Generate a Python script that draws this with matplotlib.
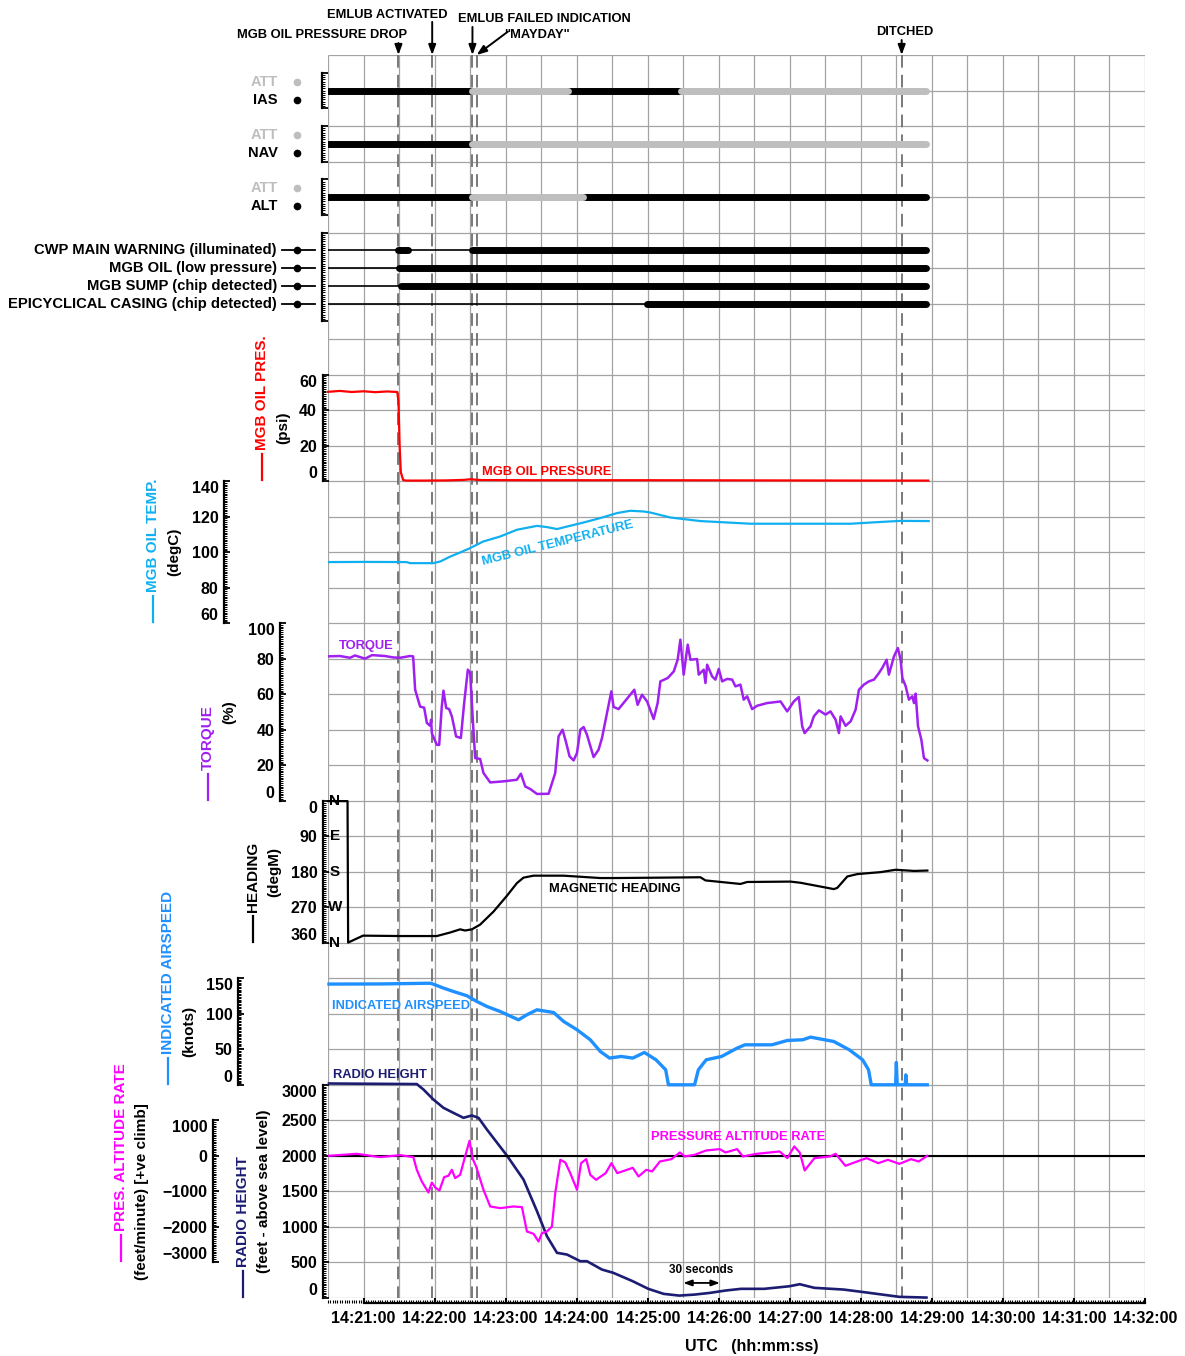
import numpy as np
import matplotlib
matplotlib.use("Agg")
import matplotlib.pyplot as plt
from matplotlib import transforms
from matplotlib.lines import Line2D
from matplotlib.ticker import MultipleLocator, FuncFormatter

plt.rcParams['font.family'] = ['Liberation Sans', 'DejaVu Sans']
plt.rcParams['font.weight'] = 'bold'

# all times are seconds after 14:20:00 UTC
T0, T1 = 30, 720

EVENT_T = [89.5, 118, 152, 155.5, 514.5]
EVENT_LABELS = ['MGB OIL PRESSURE DROP', 'EMLUB ACTIVATED', 'EMLUB FAILED INDICATION',
                '"MAYDAY"', 'DITCHED']

# autopilot modes: (start, end, engaged mode)
IAS_MODE = [(30, 152, 'IAS'), (152, 233, 'ATT'), (233, 328, 'IAS'), (328, 535, 'ATT')]
NAV_MODE = [(30, 152, 'NAV'), (152, 535, 'ATT')]
ALT_MODE = [(30, 152, 'ALT'), (152, 245, 'ATT'), (245, 535, 'ALT')]

DISCRETE_NAMES = ['CWP MAIN WARNING (illuminated)', 'MGB OIL (low pressure)',
                  'MGB SUMP (chip detected)', 'EPICYCLICAL CASING (chip detected)']
DISCRETE_ON = [[(89.5, 97.5), (152, 535)], [(90, 535)], [(92, 535)], [(299, 535)]]
DISCRETE_END = 535

OIL_T = [30, 40, 50, 60, 70, 80, 88.5, 89.5, 90.5, 91.5, 93.5, 96, 110, 130, 145, 151, 154, 160, 200, 300, 400, 500, 537]
OIL_P = [50.3, 50.8, 50.2, 50.6, 50.1, 50.5, 50.2, 45, 20, 5, 0.6, 0.3, 0.3, 0.4, 0.7, 1.1, 0.8, 0.6, 0.5, 0.5, 0.4, 0.3, 0.3]

TEMP_T = [30, 60, 96.5, 99.3, 118.8, 124.7, 133.2, 141.6, 150.1, 161.1, 175.4, 189.5, 206.5, 214.9,
          223.4, 231.8, 245.9, 260, 274.1, 285.3, 296.6, 302.3, 319.2, 344.5, 386.8, 430, 471.4,
          496.7, 513.6, 537.3]
TEMP_V = [94.4, 94.5, 94.4, 93.8, 93.8, 94.7, 97.5, 99.8, 102.3, 106, 108.8, 112.6, 114.8, 114.1,
          113, 114.4, 116.7, 119.2, 122, 123.3, 122.9, 122.3, 119.5, 117.5, 116, 116, 116,
          117, 117.6, 117.5]

TORQUE_T = [30, 40, 48.6, 52.8, 61.3, 67.2, 78.2, 85, 90.9, 99.3, 101.9, 103.6, 107.8, 111.2, 113.5,
            116.2, 117.1, 117.7, 121.9, 123.9, 126.1, 127.5, 129.8, 132.3, 134.6, 138.2, 142.2, 145,
            148.1, 150.1, 152.3, 154.3, 158.5, 161.3, 167, 178.2, 189.5, 192.9, 196.6, 200.8, 206.5,
            216.3, 221.9, 224.7, 228.1, 231.2, 234, 237.4, 240.3, 243.1, 245.9, 248.7, 254.3, 258.5,
            261.4, 265.6, 269.3, 271.2, 275.4, 282.6, 288.7, 291.5, 295.2, 299.5, 305, 308.4, 310.7,
            316.9, 322, 325.3, 327.6, 330.4, 333.8, 336.1, 341.7, 343.1, 347.3, 348.8, 350.2, 354.4,
            357.2, 360, 362.9, 367.1, 371.3, 374.1, 378.3, 381.1, 384, 388.2, 392.5, 400.9, 412.2,
            417.8, 423.4, 427.6, 430.5, 432.5, 437.5, 440.3, 444.6, 450.2, 454.4, 458.7, 461.5,
            462.9, 467.1, 471.4, 475.6, 478.4, 482.6, 486.8, 491.1, 495.3, 498.1, 501.8, 503.7, 508,
            511.3, 513.6, 515.1, 517.9, 520.6, 523.5, 524.9, 526.3, 528.3, 531.1, 533.3, 536.2]
TORQUE_V = [81.3, 81.5, 80.5, 81.8, 80, 82, 81.5, 80.7, 80.5, 81.5, 81.3, 62.5, 53, 52.4, 43.8,
            42.2, 45.6, 38, 31.5, 31.4, 53, 62, 52.2, 51.6, 47.5, 36.2, 35.3, 55,
            73.8, 72, 45.6, 24, 23.5, 15.6, 10.3, 10.9, 11.8, 15.2, 8, 6.6, 3.8,
            3.9, 15.6, 36.2, 40, 32.5, 25, 22.7, 26.9, 40, 41.5, 37.2, 24.6, 28.7,
            35.3, 49.4, 61.6, 52.8, 51.6, 57.5, 62.5, 54, 59.7, 55.9, 46, 55, 67.2,
            69.1, 72.8, 79.4, 90.7, 71, 87.9, 79.4, 79.8, 71, 73.8, 66.3, 76.6, 70,
            68.2, 74.2, 67.2, 68.6, 68.2, 64.4, 65.4, 56.9, 58.8, 51.6, 53.5, 55, 55.9,
            50.3, 55.9, 58.4, 41.9, 38.1, 41.9, 47.5, 50.9, 48.5, 50.3, 45.6, 38.1,
            47.5, 42.2, 44.7, 51.3, 62.5, 65.4, 67.2, 68.2, 71.9, 74.8, 79.4, 71, 81.3,
            86, 79.4, 69.1, 64.4, 56.9, 58.8, 55, 60.3, 41.9, 34.4, 24, 22.7]

HDG_T = [30, 46.5, 47, 59.6, 90.9, 121.9, 133.2, 141.6, 145.8, 151.5, 158.5, 169.8, 181.1, 189.5,
         195.1, 203.6, 229, 260, 271.2, 310.7, 344.5, 348.8, 378.3, 384, 420.6, 429.1, 457.2,
         460.1, 468.6, 477, 496.7, 509.4, 524.9, 536.2]
HDG_V = [1, 1, 359.5, 342, 343, 343, 334, 326, 329, 326, 314, 281, 241, 209,
         195, 190, 190, 196, 196, 195, 194, 202, 211, 206, 205, 208, 224,
         221, 192, 186, 181, 175, 178, 177]

IAS_T = [30.8, 74, 116.2, 118.8, 127.5, 135.9, 147.3, 155.7, 164.2, 175.4, 190.9, 198, 206.5, 220.5,
         229, 240.3, 251.5, 260, 267.8, 277.6, 287.4, 297.2, 307, 315.2, 317.5, 339.6, 342.8, 349.4,
         362.4, 375.5, 382.1, 404.9, 417.9, 431, 437.5, 457.1, 470.2, 481.5, 486.5, 488.8, 509.4,
         510, 510.7, 517.5, 518, 518.7, 536.1]
IAS_V = [141.8, 142, 143, 141.8, 136.2, 131.4, 125.4, 117.3, 110.3, 103.2, 91.5, 98.6, 105.6, 101.8,
         89.2, 77.5, 63.4, 46.9, 37.6, 39.9, 37.6, 45.5, 35.2, 21.1, 0, 0, 21.1, 35.2,
         39.9, 51.6, 56.3, 56.3, 62.4, 63.4, 67.1, 61, 49.3, 35.2, 21.1, 0, 0,
         31.4, 0, 0, 14, 0, 0]

RADALT_T = [30.8, 105, 110.6, 119, 127.5, 135.9, 144.4, 151.5, 157.1, 164.2, 181.1, 195.1, 206.5,
            214.9, 223.4, 231.8, 243.1, 248.7, 261.3, 271, 287.4, 300.5, 313.5, 326.6, 339.6, 352.6,
            365.7, 378.8, 398.4, 419.6, 428.4, 440.8, 465.3, 483.2, 512.6, 535.4]
RADALT_V = [3018, 3010, 2934, 2793, 2676, 2605, 2535, 2568, 2535, 2370, 2004, 1666, 1220,
            868, 634, 610, 516, 516, 399, 352, 234, 127, 56, 32, 46, 70,
            103, 127, 127, 163, 192, 141, 117, 79, 14, 4]

ALTRATE_T = [30.8, 54.3, 74, 90.9, 102.1, 105, 109.2, 114.8, 117.7, 120.5, 124.1, 128.1, 131.7, 134.6,
             137.4, 141.6, 145.8, 149.5, 152.3, 155.1, 161.3, 167, 175.4, 186.7, 193.8, 198, 203.6,
             207.8, 210.7, 214.9, 219.1, 221.9, 226.2, 230.4, 234.6, 240.3, 243.7, 248.1, 251.5,
             256.4, 264.5, 269.4, 274.3, 280.9, 287.4, 292.3, 298.8, 303.7, 310.3, 320, 327.2, 331.4,
             339.6, 349.4, 360.8, 365.7, 375.5, 380.4, 391.9, 411.4, 417.9, 423.8, 428.4, 432.6,
             440.8, 453.9, 458.7, 467, 476.8, 484.9, 494.7, 502.9, 512.6, 522.4, 528.9, 536.1]
ALTRATE_V = [0, 56, -37, 19, -37, -394, -723, -1033, -751, -892, -977, -600, -563, -394,
             -629, -535, -19, 423, -94, -300, -958, -1427, -1474, -1427, -1446, -2131, -2197,
             -2413, -2178, -2131, -1991, -1051, -113, -188, -488, -958, -207, -94, -535,
             -676, -488, -207, -488, -413, -338, -582, -394, -441, -160, -94, 94, -19,
             28, 150, 188, 94, 188, -19, 56, 122, -66, 263, 94, -413,
             -66, -19, 56, -282, -160, -66, -207, -113, -226, -94, -160, 0]

RED, CYAN, PURPLE = '#ff0000', '#10b0f0', '#a020f0'
BLUE, NAVY, MAGENTA = '#1e90ff', '#1c1c72', '#ff00ff'
ATT_GRAY, GRID_GRAY = '#bebebe', '#a3a3a3'

W, H = 1185, 1356
GRID_L, GRID_R, GRID_T = 328, 1145, 55
ROW = 35.51
NROWS = 35
LABEL_FS = 9.3   # in-plot series labels and call-outs


def fx(px):
    return px / W


def fy(py):
    return 1 - py / H


fig = plt.figure(figsize=(W / 100, H / 100), dpi=100)

# background grid and the time axis
main = fig.add_axes([fx(GRID_L), fy(GRID_T + NROWS * ROW), fx(GRID_R) - fx(GRID_L), NROWS * ROW / H])
main.set_xlim(T0, T1)
main.set_ylim(NROWS, 0)
main.patch.set_visible(False)
for s in ['top', 'right', 'left']:
    main.spines[s].set_visible(False)
main.spines['bottom'].set_position(('outward', 3.6))
main.spines['bottom'].set_bounds(60, T1)
main.spines['bottom'].set_linewidth(1.6)
main.set_yticks([])
main.xaxis.set_major_locator(MultipleLocator(60))
main.xaxis.set_minor_locator(MultipleLocator(2))
main.xaxis.set_major_formatter(FuncFormatter(lambda t, _: f"14:{20 + int(round(t)) // 60:02d}:00"))
main.tick_params(axis='x', which='major', direction='in', length=3.5, width=1.5, pad=6, labelsize=11.5)
main.tick_params(axis='x', which='minor', direction='in', length=2, width=0.8)
main.hlines(np.arange(NROWS + 1), T0, T1, color=GRID_GRAY, lw=0.9, zorder=0)
main.vlines(np.arange(T0, T1 + 1, 30), 0, NROWS, color=GRID_GRAY, lw=0.9, zorder=0)
main.vlines(EVENT_T, 0, NROWS, colors='#6e6e6e', lw=1.3, linestyles=(0, (7, 4)), zorder=1)
fig.text(fx(752), fy(1346), 'UTC   (hh:mm:ss)', ha='center', va='center', fontsize=11.5)

# event call-outs above the grid
arrow = dict(arrowstyle='-|>,head_length=0.6,head_width=0.22', color='k', lw=1.4, shrinkA=0, shrinkB=0)
callouts = [((322, 35), (0, 8.6)), ((387, 15), (0, 23.8)), ((544, 19), (0, 20.2)),
            ((537, 35), (22.5, 16.8)), ((905, 32), (0, 10.8))]
for t, label, ((tx, ty), off) in zip(EVENT_T, EVENT_LABELS, callouts):
    fig.text(fx(tx), fy(ty), label, ha='center', va='center', fontsize=LABEL_FS)
    main.annotate('', xy=(t, 0), xytext=off, textcoords='offset points',
                  arrowprops=arrow, annotation_clip=False)

main.text(345, 34.22, '30 seconds', ha='center', va='center', fontsize=8.5)
main.annotate('', xy=(330, 34.58), xytext=(361, 34.58), annotation_clip=False,
              arrowprops=dict(arrowstyle='<|-|>,head_length=0.5,head_width=0.18', color='k',
                              lw=1.3, shrinkA=0, shrinkB=0))


def panel(row_top, row_bot, spine_px, ylim):
    top = GRID_T + row_top * ROW
    bot = GRID_T + row_bot * ROW
    ax = fig.add_axes([fx(GRID_L), fy(bot), fx(GRID_R) - fx(GRID_L), (bot - top) / H])
    ax.set_xlim(T0, T1)
    ax.set_ylim(*ylim)
    ax.patch.set_visible(False)
    for s in ['top', 'right', 'bottom']:
        ax.spines[s].set_visible(False)
    ax.spines['left'].set_position(('axes', (spine_px - GRID_L) / (GRID_R - GRID_L)))
    ax.spines['left'].set_linewidth(1.6)
    ax.set_xticks([])
    return ax, top, bot


def scale(ax, ticks, minor):
    ax.set_yticks(ticks)
    ax.yaxis.set_minor_locator(MultipleLocator(minor))
    ax.tick_params(axis='y', which='major', direction='in', length=4.5, width=1.3, pad=4, labelsize=11.5)
    ax.tick_params(axis='y', which='minor', direction='in', length=2.2, width=0.7)
    bottom, top = ax.get_ylim()
    for tk, v in zip(ax.yaxis.get_major_ticks(), ticks):
        if v == bottom:
            tk.label1.set_va('bottom')
        elif v == top:
            tk.label1.set_va('top')


def y_title(top, bot, col_x, label, color, units):
    fig.add_artist(Line2D([fx(col_x)] * 2, [fy(bot - 1), fy(bot - 27)], color=color, lw=1.6,
                          transform=fig.transFigure))
    fig.text(fx(col_x), fy(bot - 31), label, rotation=90, ha='center', va='bottom',
             color=color, fontsize=11)
    fig.text(fx(col_x + 21), fy((top + bot) / 2), units, rotation=90, ha='center', va='center',
             fontsize=11)


def bracket(ax, lo, hi, step):
    ax.set_yticks([lo, hi])
    ax.yaxis.set_minor_locator(MultipleLocator(step))
    ax.tick_params(axis='y', which='major', direction='in', length=4, width=1.3, labelleft=False)
    ax.tick_params(axis='y', which='minor', direction='in', length=2, width=0.7)


# autopilot upper modes
for row, name, segs in [(0.5, 'IAS', IAS_MODE), (2.0, 'NAV', NAV_MODE), (3.5, 'ALT', ALT_MODE)]:
    ax, _, _ = panel(row, row + 1, 322, (0, 1))
    bracket(ax, 0, 1, 1 / 16)
    for state, color in [(name, 'k'), ('ATT', ATT_GRAY)]:
        for a, b, s in segs:
            if s == state:
                ax.plot([a, b], [0.5, 0.5], color=color, lw=5, solid_capstyle='round')
    tr = transforms.blended_transform_factory(fig.transFigure, ax.transData)
    for dy, text, color in [(9 / ROW, 'ATT', ATT_GRAY), (-9 / ROW, name, 'k')]:
        ax.text(fx(278), 0.5 + dy, text, ha='right', va='center', color=color, fontsize=10.5, transform=tr)
        ax.plot([fx(297)], [0.5 + dy], 'o', ms=4.5, color=color, transform=tr, clip_on=False)

# warning discretes
ax, _, _ = panel(5, 7.5, 322, (4, -1))
bracket(ax, -1, 4, 1 / 8)
tr = transforms.blended_transform_factory(fig.transFigure, ax.transData)
for i, (name, on) in enumerate(zip(DISCRETE_NAMES, DISCRETE_ON)):
    ax.plot([T0, DISCRETE_END], [i, i], color='k', lw=1.2)
    for a, b in on:
        ax.plot([a, b], [i, i], color='k', lw=5, solid_capstyle='round')
    ax.text(fx(277), i, name, ha='right', va='center', fontsize=10.6, transform=tr)
    ax.plot([fx(282), fx(315)], [i, i], color='k', lw=1.3, transform=tr, clip_on=False)
    ax.plot([fx(297)], [i], 'o', ms=4.5, color='k', transform=tr, clip_on=False)

# MGB oil pressure
ax, top, bot = panel(9, 12, 322.5, (0, 60))
scale(ax, [0, 20, 40, 60], 1)
ax.plot(OIL_T, OIL_P, color=RED, lw=1.6, clip_on=False)
ax.text(160, 5.1, 'MGB OIL PRESSURE', color=RED, ha='left', va='center', fontsize=LABEL_FS)
y_title(top, bot, 262, 'MGB OIL PRES.', RED, '(psi)')

# MGB oil temperature
ax, top, bot = panel(12, 16, 224, (60, 140))
scale(ax, [60, 80, 100, 120, 140], 1)
ax.plot(TEMP_T, TEMP_V, color=CYAN, lw=1.6)
ax.text(224, 105.2, 'MGB OIL TEMPERATURE', color=CYAN, ha='center', va='center', rotation=14,
        rotation_mode='anchor', fontsize=LABEL_FS)
y_title(top, bot, 153, 'MGB OIL TEMP.', CYAN, '(degC)')

# torque
ax, top, bot = panel(16, 21, 280, (0, 100))
scale(ax, [0, 20, 40, 60, 80, 100], 1)
ax.plot(TORQUE_T, TORQUE_V, color=PURPLE, lw=1.8)
ax.text(62, 87.3, 'TORQUE', color=PURPLE, ha='center', va='center', fontsize=LABEL_FS)
y_title(top, bot, 208, 'TORQUE', PURPLE, '(%)')

# magnetic heading
ax, top, bot = panel(21, 25, 323, (360, 0))
scale(ax, [0, 90, 180, 270, 360], 5)
ax.plot(HDG_T, HDG_V, color='k', lw=1.6, clip_on=False)
tr = transforms.blended_transform_factory(ax.transAxes, ax.transData)
for v, letter in zip([0, 90, 180, 270, 360], 'NESWN'):
    ax.text((335 - GRID_L) / (GRID_R - GRID_L), v, letter, ha='center', va='center', fontsize=11,
            transform=tr)
ax.text(272, 223, 'MAGNETIC HEADING', ha='center', va='center', fontsize=LABEL_FS)
y_title(top, bot, 253, 'HEADING', 'k', '(degM)')

# indicated airspeed
ax, top, bot = panel(26, 29, 238, (0, 150))
scale(ax, [0, 50, 100, 150], 2)
ax.plot(IAS_T, IAS_V, color=BLUE, lw=2.4, clip_on=False)
ax.text(33.4, 111, 'INDICATED AIRSPEED', color=BLUE, ha='left', va='center', fontsize=LABEL_FS)
y_title(top, bot, 168, 'INDICATED AIRSPEED', BLUE, '(knots)')

# radio height
ax, top, bot = panel(29, 35, 323, (0, 3000))
scale(ax, [0, 500, 1000, 1500, 2000, 2500, 3000], 25)
ax.plot(RADALT_T, RADALT_V, color=NAVY, lw=1.9, clip_on=False)
ax.text(34.2, 3140, 'RADIO HEIGHT', color=NAVY, ha='left', va='center', fontsize=LABEL_FS)
y_title(top, bot, 243, 'RADIO HEIGHT', NAVY, '(feet - above sea level)')

# pressure altitude rate
ax, top, bot = panel(30, 34, 213, (-3000, 1000))
scale(ax, [-3000, -2000, -1000, 0, 1000], 50)
ax.axhline(0, color='k', lw=1.5)
ax.plot(ALTRATE_T, ALTRATE_V, color=MAGENTA, lw=1.6)
ax.text(302.8, 543, 'PRESSURE ALTITUDE RATE', color=MAGENTA, ha='left', va='center', fontsize=LABEL_FS)
y_title(top, bot, 121, 'PRES. ALTITUDE RATE', MAGENTA, '(feet/minute) [+ve climb]')

fig.savefig('out.png', dpi=100)
